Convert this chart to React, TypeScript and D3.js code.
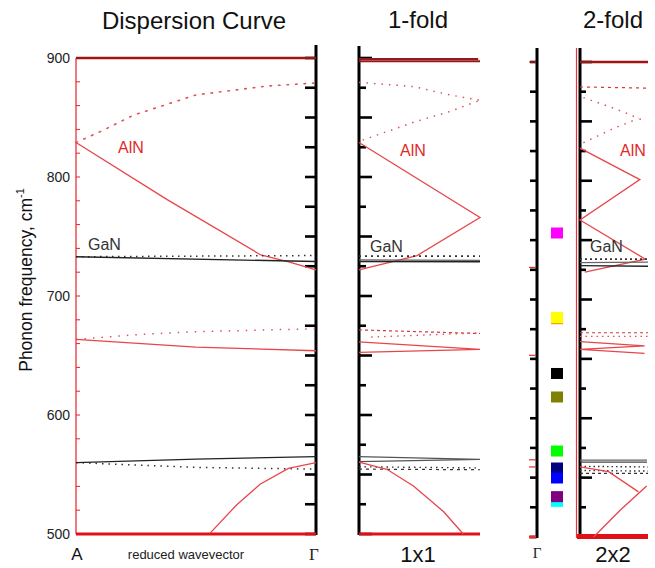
import React from "react";
import * as d3 from "d3";

type P = [number, number];

// ---------- Panel 1: dispersion curve, t = 0 at A, 1 at Γ ----------
const alnUpperDotted: P[] = [[0, 829], [0.1, 838], [0.24, 852], [0.5, 869], [0.8, 876.5], [1, 879]];
const alnUpperSolid: P[] = [[0, 829], [0.38, 781], [0.77, 734.5], [0.89, 728.5], [1, 722]];
const ganUpperSolid: P[] = [[0, 733], [1, 729]];
const ganUpperDotted: P[] = [[0, 733], [1, 734]];
const alnMidSolid: P[] = [[0, 663.5], [0.5, 657], [1, 654]];
const alnMidDotted: P[] = [[0, 663.5], [0.25, 667.5], [0.5, 670], [1, 672.5]];
const ganLowSolid: P[] = [[0, 560], [0.5, 563], [1, 565]];
const ganLowDotted: P[] = [[0, 560], [0.5, 556], [1, 554.5]];
const alnLowSolid: P[] = [[0.558, 500.5], [0.669, 524.4], [0.767, 541.8], [0.885, 555.2], [1, 560]];

// ---------- Panel 2: 1-fold (1x1) ----------
const f1TopLines = [899.2, 897.2];
const f1AlnDotA: P[] = [[0, 879.5], [0.45, 876], [0.75, 869], [1, 864.5]];
const f1AlnDotB: P[] = [[0.03, 831], [0.45, 846], [0.75, 855], [1, 864.5]];
const f1AlnSolid: P[] = [[0, 829], [1, 766], [0.48, 734], [0, 722]];
const f1GanDotted: P[] = [[0, 733.5], [1, 733.5]];
const f1GanSolidA: P[] = [[0, 730.3], [1, 730]];
const f1GanSolidB: P[] = [[0, 729], [1, 728.8]];
const f1MidDashed: P[] = [[0, 671.5], [1, 668.5]];
const f1MidDotted: P[] = [[0.1, 665.5], [1, 669]];
const f1MidSolid: P[] = [[0, 661.5], [1, 655.2], [0, 652.7]];
const f1LowSolid: P[] = [[0, 565], [1, 562.7], [0, 560.8]];
const f1LowDotted: P[] = [[0, 556.5], [1, 555.5]];
const f1LowDashed: P[] = [[0, 554.5], [1, 554]];
const f1LowRed: P[] = [[0, 560.5], [0.23, 554.4], [0.45, 540.3], [0.7, 518.7], [0.862, 500]];

// ---------- Panel 4: 2-fold (2x2) ----------
const f2Dashed: P[] = [[0, 879], [1, 878]];
const f2DotA: P[] = [[0.05, 870], [0.3, 865], [0.5, 861], [0.7, 856.5], [0.86, 852.5], [0.97, 849.5]];
const f2DotB: P[] = [[0.05, 832], [0.29, 838.5], [0.49, 844], [0.69, 848.5], [0.86, 852.5]];
const f2AlnSolid: P[] = [[0, 827.5], [0.88, 801], [0, 767], [0.96, 734], [0.07, 723]];
const f2GanDotted: P[] = [[0, 734], [1, 734]];
const f2GanSolidA: P[] = [[0, 731], [1, 731.5]];
const f2GanSolidB: P[] = [[0, 728.5], [1, 728]];
const f2MidDashed: P[] = [[0, 672], [1, 672]];
const f2MidDotted: P[] = [[0, 669], [1, 669]];
const f2MidSolid: P[] = [[0, 664.6], [0.95, 661], [0, 658], [0.95, 654.6]];
const f2LowSolidA: P[] = [[0, 564.7], [0.985, 564.7]];
const f2LowSolidB: P[] = [[0, 563], [0.985, 563]];
const f2LowDotA: P[] = [[0, 559.5], [1, 559]];
const f2LowDotB: P[] = [[0, 556], [1, 555.5]];
const f2LowDashed: P[] = [[0, 553.5], [1, 553.5]];
const f2LowRedA: P[] = [[0, 559], [0.42, 555], [0.86, 538]];
const f2LowRedB: P[] = [[0.2, 500], [0.59, 522.5], [0.98, 543]];

// ---------- Γ column: mode markers ----------
const squareFreqs = [756, 683.8, 684.8, 637.7, 617.9, 572.4, 558.1, 549.7, 530, 534];
const squareColors = ["#ff00ff", "#ff9900", "#ffff00", "#000000", "#808000", "#00ff00", "#000080", "#0000ff", "#00ffff", "#800080"];
const gammaRedTicks = [900, 727, 653, 565, 559, 500];

// ---------- Axes ----------
const yTickLabels = [500, 600, 700, 800, 900];
const titles = ["Dispersion Curve", "1-fold", "2-fold"];
const bottomLabels = ["A", "reduced wavevector", "Γ", "1x1", "Γ", "2x2"];

const RED = "#e8454a";
const DOT_RED = "#e0505a";
const BLACK = "#222";
const SANS = "'Liberation Sans', Arial, sans-serif";
const SERIF = "'Liberation Serif', 'DejaVu Serif', serif";

export default function App() {
  const y1 = d3.scaleLinear().domain([500, 900]).range([534, 58]);
  const y3 = d3.scaleLinear().domain([500, 900]).range([537, 62]);
  const x1 = d3.scaleLinear().domain([0, 1]).range([76, 316]);
  const x2 = d3.scaleLinear().domain([0, 1]).range([359, 480]);
  const x4 = d3.scaleLinear().domain([0, 1]).range([580, 648]);

  const mk = (xs: d3.ScaleLinear<number, number>, ys: d3.ScaleLinear<number, number>) =>
    d3.line<P>().x((d) => xs(d[0])).y((d) => ys(d[1]));
  const l1 = mk(x1, y1);
  const l2 = mk(x2, y1);
  const l4 = mk(x4, y3);

  type S = { d: P[]; g: d3.Line<P>; c: string; w: number; dash?: string; cap?: string };
  const series: S[] = [
    // panel 1
    { d: alnUpperDotted, g: l1, c: DOT_RED, w: 1.6, dash: "1.5,7", cap: "round" },
    { d: alnUpperSolid, g: l1, c: RED, w: 1.3 },
    { d: ganUpperDotted, g: l1, c: "#333", w: 1.5, dash: "1.5,4.5" },
    { d: ganUpperSolid, g: l1, c: BLACK, w: 1.3 },
    { d: alnMidDotted, g: l1, c: DOT_RED, w: 1.5, dash: "1.5,7" },
    { d: alnMidSolid, g: l1, c: RED, w: 1.3 },
    { d: ganLowDotted, g: l1, c: "#333", w: 1.5, dash: "1.5,5" },
    { d: ganLowSolid, g: l1, c: BLACK, w: 1.3 },
    { d: alnLowSolid, g: l1, c: RED, w: 1.3 },
    // panel 2
    { d: f1AlnDotA, g: l2, c: DOT_RED, w: 1.5, dash: "1.5,6" },
    { d: f1AlnDotB, g: l2, c: DOT_RED, w: 1.5, dash: "1.5,6" },
    { d: f1AlnSolid, g: l2, c: RED, w: 1.3 },
    { d: f1GanDotted, g: l2, c: "#333", w: 1.6, dash: "2,4" },
    { d: f1GanSolidA, g: l2, c: "#666", w: 1.2 },
    { d: f1GanSolidB, g: l2, c: BLACK, w: 1.3 },
    { d: f1MidDashed, g: l2, c: "#d23a3a", w: 1.2, dash: "3,3" },
    { d: f1MidDotted, g: l2, c: DOT_RED, w: 1.3, dash: "1.5,5" },
    { d: f1MidSolid, g: l2, c: RED, w: 1.3 },
    { d: f1LowSolid, g: l2, c: "#555", w: 1.3 },
    { d: f1LowDotted, g: l2, c: "#333", w: 1.4, dash: "1.5,4" },
    { d: f1LowDashed, g: l2, c: "#333", w: 1.2, dash: "3,4" },
    { d: f1LowRed, g: l2, c: RED, w: 1.3 },
    // panel 4
    { d: f2Dashed, g: l4, c: "#d23a3a", w: 1.2, dash: "3,4" },
    { d: f2DotA, g: l4, c: DOT_RED, w: 1.5, dash: "1.5,6" },
    { d: f2DotB, g: l4, c: DOT_RED, w: 1.5, dash: "1.5,6" },
    { d: f2AlnSolid, g: l4, c: RED, w: 1.3 },
    { d: f2GanDotted, g: l4, c: "#333", w: 1.6, dash: "2,3" },
    { d: f2GanSolidA, g: l4, c: "#666", w: 1.2 },
    { d: f2GanSolidB, g: l4, c: BLACK, w: 1.3 },
    { d: f2MidDashed, g: l4, c: "#d23a3a", w: 1.2, dash: "3,3" },
    { d: f2MidDotted, g: l4, c: DOT_RED, w: 1.3, dash: "1.5,4" },
    { d: f2MidSolid, g: l4, c: RED, w: 1.3 },
    { d: f2LowSolidA, g: l4, c: "#666", w: 1.3 },
    { d: f2LowSolidB, g: l4, c: "#444", w: 1.2 },
    { d: f2LowDotA, g: l4, c: "#333", w: 1.4, dash: "1.5,3" },
    { d: f2LowDotB, g: l4, c: "#333", w: 1.4, dash: "1.5,3" },
    { d: f2LowDashed, g: l4, c: "#333", w: 1.2, dash: "3,3" },
    { d: f2LowRedA, g: l4, c: RED, w: 1.3 },
    { d: f2LowRedB, g: l4, c: RED, w: 1.3 },
  ];

  const ticks25 = d3.range(500, 901, 25);
  const ticks20 = d3.range(500, 901, 20);

  return (
    <svg width={655} height={568} style={{ position: "absolute", left: 0, top: 0, background: "#fff" }}>
      <rect x={0} y={0} width={655} height={568} fill="#fff" />

      {/* titles */}
      <text x={194} y={29} fontSize={24} fontFamily={SANS} fill="#111" textAnchor="middle">{titles[0]}</text>
      <text x={418} y={28} fontSize={24} fontFamily={SANS} fill="#111" textAnchor="middle">{titles[1]}</text>
      <text x={613} y={28} fontSize={24} fontFamily={SANS} fill="#111" textAnchor="middle">{titles[2]}</text>

      {/* y axis label */}
      <text transform="translate(32,280) rotate(-90)" fontSize={17.5} fontFamily={SANS} fill="#111" textAnchor="middle">
        Phonon frequency, cm<tspan fontSize={11} dy={-8}>-1</tspan>
      </text>

      {/* ---- Panel 1 frame ---- */}
      <line x1={76} x2={76} y1={y1(900)} y2={y1(500)} stroke="#e8202a" strokeWidth={1.2} />
      {ticks20.map((t) => (
        <line key={"lt" + t} x1={76} x2={80} y1={y1(t)} y2={y1(t)} stroke="#e8202a" strokeWidth={1} />
      ))}
      {yTickLabels.map((t) => (
        <text key={"yl" + t} x={70} y={y1(t)} dy="0.36em" fontSize={14} fontFamily={SANS} fill="#222" textAnchor="end">{t}</text>
      ))}
      <line x1={316} x2={316} y1={45} y2={535} stroke="#000" strokeWidth={3} />
      {ticks25.map((t) => (
        <line key={"rt" + t} x1={305} x2={316} y1={y1(t)} y2={y1(t)} stroke="#000" strokeWidth={2.6} />
      ))}

      {/* ---- Panel 2 frame ---- */}
      <line x1={359} x2={359} y1={46} y2={535} stroke="#000" strokeWidth={3} />
      {ticks25.map((t) => (
        <line key={"p2t" + t} x1={359} x2={t % 50 === 0 ? 372 : 366} y1={y1(t)} y2={y1(t)} stroke="#000" strokeWidth={2.6} />
      ))}

      {/* ---- Γ column frame ---- */}
      <line x1={537} x2={537} y1={48} y2={538} stroke="#000" strokeWidth={3} />
      {ticks25.map((t) => (
        <line key={"gt" + t} x1={530} x2={537} y1={y3(t)} y2={y3(t)} stroke="#000" strokeWidth={2.6} />
      ))}
      {gammaRedTicks.map((t) => (
        <line key={"grt" + t} x1={529} x2={536} y1={y3(t)} y2={y3(t)} stroke="#e03030" strokeWidth={t === 500 ? 3 : 1.2} />
      ))}

      {/* ---- Panel 4 frame ---- */}
      <line x1={576.5} x2={576.5} y1={48} y2={538} stroke="#e8303a" strokeWidth={1.2} />
      <line x1={580} x2={580} y1={48} y2={538} stroke="#000" strokeWidth={3} />
      {ticks25.map((t) => (
        <line key={"p4t" + t} x1={580} x2={t % 50 === 0 ? 592 : 586} y1={y3(t)} y2={y3(t)} stroke="#000" strokeWidth={2.6} />
      ))}

      {/* boundary lines at 900 and 500 */}
      <line x1={x1(0)} x2={x1(1)} y1={y1(900)} y2={y1(900)} stroke="#a01414" strokeWidth={2.6} />
      <line x1={x1(0)} x2={x1(1)} y1={y1(500)} y2={y1(500)} stroke="#e01018" strokeWidth={3} />
      {f1TopLines.map((v, i) => (
        <line key={"f1top" + i} x1={x2(0)} x2={x2(i === 0 ? 0.985 : 1)} y1={y1(v)} y2={y1(v)} stroke="#961818" strokeWidth={2} />
      ))}
      <line x1={x2(0)} x2={x2(1)} y1={y1(500)} y2={y1(500)} stroke="#e01018" strokeWidth={3} />
      <line x1={x4(0)} x2={x4(1)} y1={y3(900)} y2={y3(900)} stroke="#a01414" strokeWidth={2.4} />
      <line x1={577} x2={x4(1)} y1={y3(500) - 0.5} y2={y3(500) - 0.5} stroke="#e01018" strokeWidth={5} />

      {/* curves */}
      {series.map((s, i) => (
        <path key={"s" + i} d={s.g(s.d) || ""} fill="none" stroke={s.c} strokeWidth={s.w}
          strokeDasharray={s.dash} strokeLinecap={(s.cap as any) || "butt"} />
      ))}

      {/* Γ markers */}
      {squareFreqs.map((f, i) => (
        <rect key={"sq" + i} x={551} y={y3(f) - 5.5} width={12} height={11} fill={squareColors[i]} />
      ))}

      {/* labels inside panels */}
      <text x={118} y={153} fontSize={16} fontFamily={SANS} fill="#e02a2a">AlN</text>
      <text x={88} y={250} fontSize={16} fontFamily={SANS} fill="#333">GaN</text>
      <text x={400} y={156} fontSize={16} fontFamily={SANS} fill="#e02a2a">AlN</text>
      <text x={370} y={252} fontSize={16} fontFamily={SANS} fill="#333">GaN</text>
      <text x={620} y={156} fontSize={16} fontFamily={SANS} fill="#e02a2a">AlN</text>
      <text x={590} y={252} fontSize={16} fontFamily={SANS} fill="#333">GaN</text>

      {/* bottom labels */}
      <text x={77} y={560} fontSize={17} fontFamily={SANS} fill="#111" textAnchor="middle">{bottomLabels[0]}</text>
      <text x={186} y={559} fontSize={13} fontFamily={SANS} fill="#222" textAnchor="middle">{bottomLabels[1]}</text>
      <text x={314} y={560} fontSize={17} fontFamily={SERIF} fill="#222" textAnchor="middle">{bottomLabels[2]}</text>
      <text x={418} y={562} fontSize={22} fontFamily={SANS} fill="#111" textAnchor="middle">{bottomLabels[3]}</text>
      <text x={537} y={558} fontSize={15} fontFamily={SERIF} fill="#222" textAnchor="middle">{bottomLabels[4]}</text>
      <text x={613} y={562} fontSize={22} fontFamily={SANS} fill="#111" textAnchor="middle">{bottomLabels[5]}</text>
    </svg>
  );
}
